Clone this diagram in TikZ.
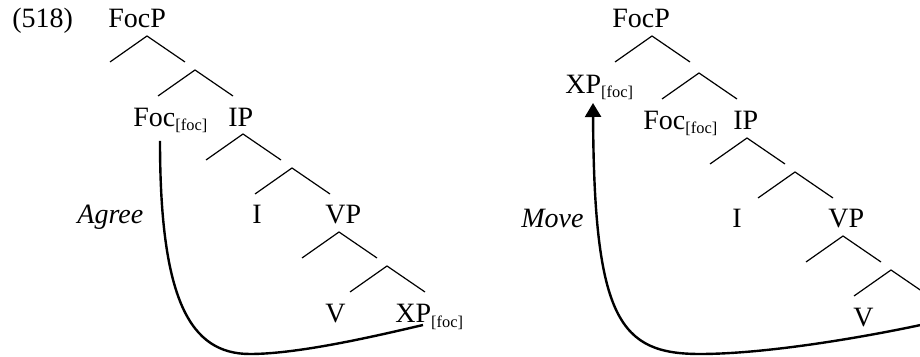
\documentclass[tikz,border=0pt]{standalone}
\usepackage{fontspec}
\setmainfont{Liberation Serif}
\usetikzlibrary{arrows.meta,calc}
\newcommand{\featsub}[1]{\raisebox{-2pt}{\fontsize{8.2}{9}\selectfont[#1]}}
\tikzset{
  cat/.style={
    inner sep=0pt,
    anchor=base west,
    font=\fontsize{14}{17}\selectfont
  },
  gloss/.style={
    cat,
    font=\fontsize{14}{17}\selectfont\itshape
  },
  branch/.style={
    line width=0.6pt
  },
  chain/.style={
    line width=1.2pt
  },
  movearrow/.style={
    chain,
    -{Triangle[length=7pt,width=8pt]}
  }
}

\begin{document}
\begin{tikzpicture}[x=0.5pt,y=-0.5pt]
\useasboundingbox (0,0) rectangle (920,357);
\clip (0,0) rectangle (920,357);

% left tree: Agree
\foreach \n/\x/\y in {1/147/36, 2/195/70, 3/243/134, 4/292/168, 5/339/232, 6/387/266} {
  \coordinate (la\n) at (\x,\y);
  \coordinate (la\n-l) at ($(la\n)+(-37,26)$);
  \coordinate (la\n-r) at ($(la\n)+(38,26)$);
  \draw[branch] (la\n-l) -- (la\n) -- (la\n-r);
}
\node[cat] (ex) at (12,28) {(518)};
\node[cat] (focpL) at (108,28) {FocP};
\node[cat] (focL) at (133,127) {Foc\featsub{foc}};
\node[cat] (ipL) at (228,127) {IP};
\node[gloss] (agree) at (77,224) {Agree};
\node[cat] (iL) at (252,224) {I};
\node[cat] (vpL) at (325,224) {VP};
\node[cat] (vL) at (325,323) {V};
\node[cat] (xpL) at (395,323) {XP\featsub{foc}};
\coordinate (agreeLow) at (250,354);
\draw[chain] ($(focL.base west)+(27,14)$) .. controls (160,300) and (190,354) .. (agreeLow)
  .. controls (300,354) and (380,335) .. ($(xpL.base west)+(28,2)$);

% right tree: Move
\foreach \n/\x/\y in {1/652/36, 2/699/73, 3/747/138, 4/795/172, 5/843/236, 6/891/270} {
  \coordinate (ra\n) at (\x,\y);
  \coordinate (ra\n-l) at ($(ra\n)+(-37,26)$);
  \coordinate (ra\n-r) at ($(ra\n)+(38,26)$);
  \draw[branch] (ra\n-l) -- (ra\n) -- (ra\n-r);
}
\node[cat] (focpR) at (612,28) {FocP};
\node[cat] (xpR) at (565,94) {XP\featsub{foc}};
\node[cat] (focR) at (643,130) {Foc\featsub{foc}};
\node[cat] (ipR) at (733,130) {IP};
\node[gloss] (move) at (521,228) {Move};
\node[cat] (iR) at (732,228) {I};
\node[cat] (vpR) at (828,228) {VP};
\node[cat] (vR) at (853,327) {V};
\coordinate (trace) at (952,318);
\coordinate (moveLow) at (700,354);
\draw[movearrow] (trace) .. controls (880,335) and (770,354) .. (moveLow)
  .. controls (620,354) and (594,320) .. ($(xpR.base west)+(28,9)$);
\end{tikzpicture}
\end{document}
